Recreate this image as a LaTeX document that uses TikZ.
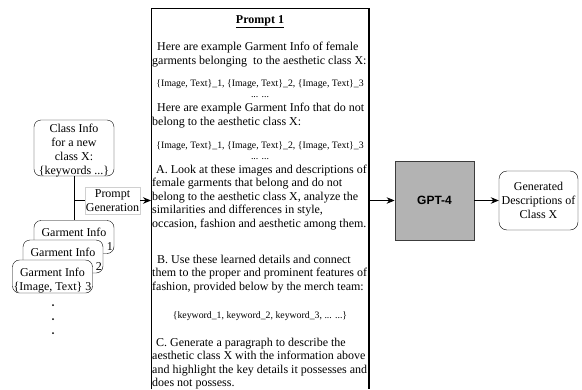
\documentclass[tikz,border=0pt]{standalone}
\usepackage{fontspec}
\setmainfont{Liberation Serif}
\newfontfamily\gptfont{Liberation Sans}
\usetikzlibrary{arrows.meta, positioning}
\definecolor{gptfill}{HTML}{B3B3B3}
\definecolor{gptline}{HTML}{3C3C3C}
\definecolor{lblline}{HTML}{D0D0D0}
\definecolor{shade}{HTML}{8C8C8C}

\begin{document}
\begin{tikzpicture}[x=1pt, y=-1pt,
  txt/.style={font=\fontsize{12}{14}\selectfont, align=center, inner sep=0pt},
  info/.style={txt, draw, rounded corners=7pt, fill=white, minimum width=80pt},
  line/.style={font=\fontsize{12}{14}\selectfont, inner sep=0pt, anchor=west, text height=8.5pt, text depth=2.5pt},
  small/.style={font=\fontsize{9.8}{11}\selectfont, inner sep=0pt, text height=7pt, text depth=2pt},
  link/.style={-{Stealth[length=8pt, width=6.5pt]}, line width=0.8pt}
]
  \useasboundingbox (0,0) rectangle (582,389);

  % Left: class info and garment stack
  \node[info, minimum height=56pt] (class) at (74,148) {};
  \node[txt] (classtext) at ([yshift=-3pt]class.center)
    {Class Info\\for a new\\class X:\\\{keywords ...\}};
  % only the last card shows its whole second line
  \foreach \i/\x/\y/\pair in {1/74/237/{\phantom{\{Image, Text\}}},
                             2/63/256.5/{\phantom{\{Image, Text\}}},
                             3/52.5/276.5/{\{Image, Text\}}} {
    \node[info, minimum height=33pt] (garment\i) at (\x,\y) {};
    \node[txt] (gtext\i) at ([yshift=-4pt]garment\i.center)
      {Garment Info\\\pair{} \i};
  }
  \foreach \y in {305,319,333}
    \fill (53,\y) circle (1pt);

  % Prompt box (runs off the bottom)
  \node[minimum width=217pt, minimum height=381pt, anchor=north west, inner sep=0pt]
    (prompt) at (151,8) {};
  \draw[line width=0.8pt] (prompt.south west) -- (prompt.north west) -- (prompt.north east);
  \draw[shade, line width=1.6pt] ([xshift=0.6pt]prompt.north east) -- ([xshift=0.6pt]prompt.south east);

  \node[font=\bfseries\fontsize{12}{14}\selectfont, inner sep=0pt] (title) at (260,22)
    {\underline{Prompt 1}};

  \foreach \x/\y/\txt [count=\i] in {
    157/47/{Here are example Garment Info of female},
    152/61/{garments belonging\ \ to the aesthetic class X:},
    157/108/{Here are example Garment Info that do not},
    152/122/{belong to the aesthetic class X:},
    156/170/{A. Look at these images and descriptions of},
    152/183/{female garments that belong and do not},
    152/197/{belong to the aesthetic class X, analyze the},
    152/210/{similarities and differences in style,},
    152/224/{occasion, fashion and aesthetic among them.},
    157/260/{B. Use these learned details and connect},
    152/273/{them to the proper and prominent features of},
    152/287/{fashion, provided below by the merch team:},
    156/343/{C. Generate a paragraph to describe the},
    152/356/{aesthetic class X with the information above},
    152/370/{and highlight the key details it possesses and},
    152/383/{does not possess.}
  } {
    \node[line] (line\i) at (\x,\y) {\txt};
  }

  \foreach \y/\txt [count=\i] in {
    84/{\{Image, Text\}\_1, \{Image, Text\}\_2, \{Image, Text\}\_3},
    95/{... ...},
    146/{\{Image, Text\}\_1, \{Image, Text\}\_2, \{Image, Text\}\_3},
    157/{... ...},
    316/{\{keyword\_1, keyword\_2, keyword\_3, ... ...\}}
  } {
    \node[small] (small\i) at (260,\y) {\txt};
  }

  % Prompt generation edge
  \node[txt, draw=lblline, fill=white, inner sep=1pt, minimum height=27pt] (gen) at (112.5,200.5)
    {Prompt\\Generation};
  \coordinate (junc) at (class.south |- gen.west);
  \draw[line width=0.9pt] (class.south) -- (garment1.north);
  \draw[line width=0.8pt] (junc) -- (gen.west);
  \draw[link] (gen.east) -- (gen.east -| prompt.west);

  % Right: model and output
  \node[draw=gptline, fill=gptfill, line width=0.8pt, minimum size=79pt,
    font=\gptfont\fontsize{12}{14}\selectfont\bfseries] (gpt) at (434.5,200.5) {GPT-4};
  \node[info, minimum width=79pt, minimum height=59pt, rounded corners=8pt] (out) at (538.5,200.5)
    {Generated\\Descriptions of\\Class X};
  \draw[link] (gpt.west -| prompt.east) -- (gpt.west);
  \draw[link] (gpt) -- (out);
\end{tikzpicture}
\end{document}
